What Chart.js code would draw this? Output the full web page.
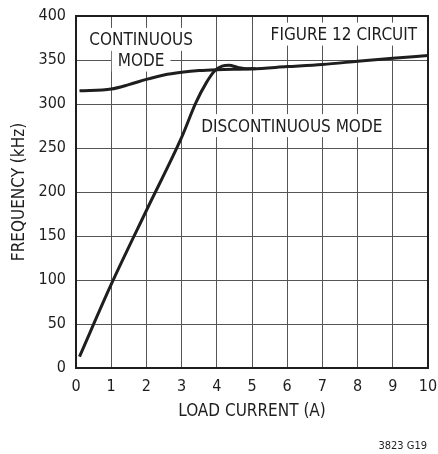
<!DOCTYPE html>
<html>
<head>
<meta charset="utf-8">
<script src="https://cdn.jsdelivr.net/npm/chart.js@4.4.0/dist/chart.umd.min.js"></script>
<style>
  html, body { margin: 0; padding: 0; background: #fff; }
  #wrap { width: 438px; height: 454px; position: relative; }
</style>
</head>
<body>
<div id="wrap"><canvas id="chart"></canvas></div>
<script>
// Frequency vs load current.
const FONT = '"Liberation Sans Narrow", "DejaVu Sans Condensed", "Roboto Condensed", "Arial Narrow", sans-serif';
const INK = '#1e1e1e';

// continuous mode curve
const contCurrent = [0.1, 1, 1.5, 2, 2.5, 3, 3.5, 4, 5, 6, 7, 8, 9, 10];
const contFreq    = [315, 317, 322, 328, 333, 336, 338, 339, 340, 342.5, 345, 348.5, 352, 355];

// discontinuous mode curve
const discCurrent = [0.1, 1, 2, 3, 3.4, 3.7, 3.95, 4.15, 4.35, 4.6, 4.85, 5.1];
const discFreq    = [13, 95, 179, 262, 301, 324, 338, 343, 344, 341.5, 340, 340];

// text notes inside the plot: [text, current, frequency]
const notes = [
  ['CONTINUOUS', 1.85, 374],
  ['MODE', 1.85, 350.5],
  ['FIGURE 12 CIRCUIT', 7.61, 380],
  ['DISCONTINUOUS MODE', 6.13, 276],
];

const toPoints = (xs, ys) => xs.map((x, i) => ({ x, y: ys[i] }));

const notesPlugin = {
  id: 'notes',
  beforeDatasetsDraw(chart) {
    const { ctx, scales } = chart;
    ctx.save();
    ctx.font = '17px ' + FONT;
    ctx.textAlign = 'center';
    ctx.textBaseline = 'alphabetic';
    notes.forEach(([text, x, y]) => {
      const px = scales.x.getPixelForValue(x);
      const py = scales.y.getPixelForValue(y);
      const w = ctx.measureText(text).width;
      ctx.fillStyle = '#fff';
      ctx.fillRect(px - w / 2 - 6, py - 11, w + 12, 23);
      ctx.fillStyle = INK;
      ctx.fillText(text, px, py + 6.5);
    });
    ctx.restore();
  },
  afterDraw(chart) {
    const { ctx, chartArea: a } = chart;
    ctx.save();
    ctx.strokeStyle = INK;
    ctx.lineWidth = 2;
    ctx.strokeRect(a.left, a.top, a.right - a.left, a.bottom - a.top);
    ctx.font = '11px ' + FONT;
    ctx.fillStyle = INK;
    ctx.textAlign = 'right';
    ctx.fillText('3823 G19', 427, 449);
    ctx.restore();
  },
};

new Chart(document.getElementById('chart'), {
  type: 'line',
  data: {
    datasets: [
      {
        label: 'Continuous',
        data: toPoints(contCurrent, contFreq),
        borderColor: INK,
        borderWidth: 3,
        pointRadius: 0,
        cubicInterpolationMode: 'monotone',
      },
      {
        label: 'Discontinuous',
        data: toPoints(discCurrent, discFreq),
        borderColor: INK,
        borderWidth: 3,
        pointRadius: 0,
        cubicInterpolationMode: 'monotone',
      },
    ],
  },
  options: {
    responsive: true,
    maintainAspectRatio: false,
    animation: false,
    events: [],
    layout: { padding: { left: 0, top: 16, right: 10, bottom: 32 } },
    plugins: { legend: { display: false }, tooltip: { enabled: false } },
    scales: {
      x: {
        type: 'linear',
        min: 0, max: 10,
        afterFit: (s) => { s.height = 54; s.paddingRight = 0; s.paddingLeft = 0; },
        ticks: { stepSize: 1, color: INK, padding: 9, font: { family: FONT, size: 16 } },
        grid: { color: '#555', drawTicks: false },
        border: { display: false },
        title: { display: true, text: 'LOAD CURRENT (A)', color: INK, padding: 0, font: { family: FONT, size: 17 } },
      },
      y: {
        min: 0, max: 400,
        afterFit: (s) => { s.width = 76; s.paddingTop = 0; s.paddingBottom = 0; },
        ticks: { stepSize: 50, color: INK, padding: 10, font: { family: FONT, size: 16 } },
        grid: { color: '#555', drawTicks: false },
        border: { display: false },
        title: { display: true, text: 'FREQUENCY (kHz)', color: INK, padding: 9, font: { family: FONT, size: 17 } },
      },
    },
  },
  plugins: [notesPlugin],
});
</script>
</body>
</html>
